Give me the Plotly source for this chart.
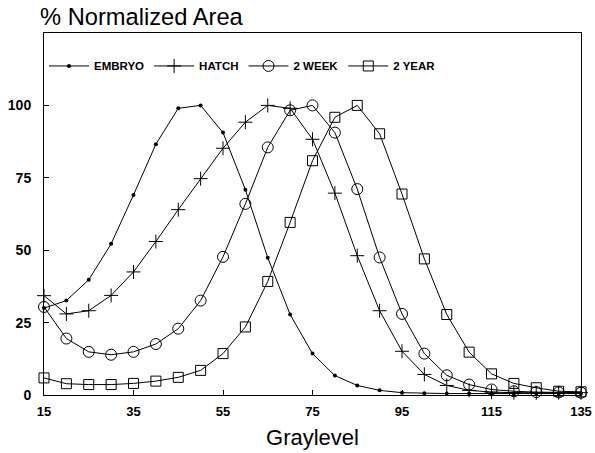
import plotly.graph_objects as go

graylevel = [15, 20, 25, 30, 35, 40, 45, 50, 55, 60, 65, 70, 75, 80, 85, 90, 95, 100, 105, 110, 115, 120, 125, 130, 135]
embryo = [30, 32.6, 39.8, 52.2, 69.1, 86.6, 99.0, 100, 90.6, 70.9, 47.4, 27.8, 14.3, 6.7, 3.3, 1.6, 0.8, 0.6, 0.5, 0.5, 0.5, 0.5, 0.5, 0.5, 0.5]
hatch = [34.3, 28.0, 29.1, 34.4, 42.5, 53.0, 64.0, 74.7, 85.2, 94.2, 100, 99.0, 88.3, 69.7, 48.1, 29.1, 15.1, 7.1, 3.3, 1.6, 1.0, 0.8, 0.8, 0.8, 0.8]
week2 = [30.4, 19.5, 14.9, 13.9, 14.9, 17.6, 22.9, 32.6, 47.7, 66.0, 85.5, 98.3, 100, 90.6, 71.1, 47.5, 28.0, 14.3, 6.8, 3.6, 1.9, 1.3, 1.0, 0.9, 0.8]
year2 = [5.9, 3.9, 3.6, 3.6, 4.0, 4.8, 6.1, 8.5, 14.3, 23.5, 39.2, 59.6, 80.9, 95.9, 100, 90.2, 69.4, 47.0, 27.8, 14.8, 7.3, 4.0, 2.5, 1.3, 1.1]

x_ticks = [15, 35, 55, 75, 95, 115, 135]
y_ticks = [0, 25, 50, 75, 100]

FONT = "Liberation Sans, Arial, sans-serif"

fig = go.Figure()
series = [
    ("EMBRYO", embryo, dict(symbol="circle", size=4, color="black")),
    ("HATCH", hatch, dict(symbol="cross-thin-open", size=10, color="black", line=dict(width=1, color="black"))),
    ("2 WEEK", week2, dict(symbol="circle-open", size=11, color="black", line=dict(width=1, color="black"))),
    ("2 YEAR", year2, dict(symbol="square-open", size=10, color="black", line=dict(width=1, color="black"))),
]
for name, vals, mk in series:
    fig.add_trace(go.Scatter(
        x=graylevel, y=vals, name=name, mode="lines+markers",
        line=dict(color="black", width=1), marker=mk, cliponaxis=False,
    ))

fig.update_layout(
    width=595, height=453,
    margin=dict(l=44, r=14, t=33, b=58),
    paper_bgcolor="white", plot_bgcolor="white",
    font=dict(family=FONT, color="black"),
    title=dict(text="% Normalized Area", x=40/595, xanchor="left", xref="container",
               y=1-17/453, yanchor="middle", yref="container",
               font=dict(size=23.7, family=FONT, color="black")),
    showlegend=True,
    legend=dict(orientation="h", x=0.0, xanchor="left", y=0.949, yanchor="top",
                font=dict(size=11.5, family=FONT, color="black", weight="bold"),
                bgcolor="rgba(0,0,0,0)", itemwidth=40),
)
fig.update_xaxes(
    range=[15, 135], tickvals=x_ticks, ticktext=[str(v) for v in x_ticks],
    ticks="inside", ticklen=5, tickcolor="black", ticklabeloverflow="allow",
    ticklabelstandoff=4, automargin=False,
    showline=True, linecolor="black", linewidth=1, mirror=True,
    showgrid=False, zeroline=False,
    tickfont=dict(size=13, family=FONT, color="black", weight="bold"),
    title=dict(text="Graylevel", font=dict(size=22, family=FONT, color="black"), standoff=12),
)
fig.update_yaxes(
    range=[0, 125], tickvals=y_ticks, ticktext=[str(v) for v in y_ticks],
    ticks="inside", ticklen=5, tickcolor="black", ticklabelstandoff=9, automargin=False,
    showline=True, linecolor="black", linewidth=1, mirror=True,
    showgrid=False, zeroline=False,
    tickfont=dict(size=14, family=FONT, color="black", weight="bold"),
)

fig.write_html("out.html", config={"displayModeBar": False},
               post_script="document.body.style.margin='0';")
